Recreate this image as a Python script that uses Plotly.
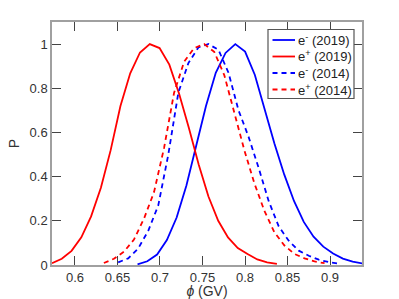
import plotly.graph_objects as go

# e+ (2019)
x_ep19 = [0.573, 0.5845, 0.596, 0.6075, 0.619, 0.6305, 0.642, 0.6535, 0.665, 0.6765, 0.688, 0.6995,
          0.711, 0.7225, 0.734, 0.7455, 0.757, 0.7685, 0.78, 0.7915, 0.803, 0.8145, 0.826, 0.8375]
p_ep19 = [0.008, 0.028, 0.064, 0.125, 0.22, 0.35, 0.52, 0.72, 0.868, 0.962, 1.0, 0.982,
          0.907, 0.775, 0.62, 0.455, 0.31, 0.2, 0.125, 0.077, 0.05, 0.025, 0.012, 0.005]

# e- (2019)
x_em19 = [0.6736, 0.6851, 0.6966, 0.7081, 0.7196, 0.7311, 0.7426, 0.7541, 0.7656, 0.7771, 0.7886, 0.8001,
          0.8116, 0.8231, 0.8346, 0.8461, 0.8576, 0.8691, 0.8806, 0.8921, 0.9036, 0.9151, 0.9266, 0.9381]
p_em19 = [0.003, 0.017, 0.047, 0.113, 0.215, 0.36, 0.54, 0.72, 0.87, 0.96, 1.0, 0.966,
          0.86, 0.70, 0.55, 0.41, 0.29, 0.195, 0.128, 0.083, 0.052, 0.029, 0.015, 0.007]

# e+ (2014)
x_ep14 = [0.634, 0.6458, 0.6576, 0.6694, 0.6812, 0.693, 0.7048, 0.7166, 0.7284, 0.7402, 0.752, 0.7638,
          0.7756, 0.7874, 0.7992, 0.811, 0.8228, 0.8346, 0.8464, 0.8582, 0.87, 0.8818, 0.8936]
p_ep14 = [0.009, 0.028, 0.06, 0.115, 0.21, 0.33, 0.53, 0.78, 0.92, 0.982, 1.0, 0.965,
          0.86, 0.69, 0.52, 0.37, 0.245, 0.148, 0.088, 0.05, 0.03, 0.016, 0.008]

# e- (2014)
x_em14 = [0.6508, 0.6626, 0.6744, 0.6862, 0.698, 0.7098, 0.7216, 0.7334, 0.7452, 0.757, 0.7688, 0.7806,
          0.7924, 0.8042, 0.816, 0.8278, 0.8396, 0.8514, 0.8632, 0.875, 0.8868, 0.8986, 0.9104]
p_em14 = [0.012, 0.03, 0.075, 0.155, 0.27, 0.5, 0.78, 0.914, 0.985, 1.0, 0.974, 0.87,
          0.70, 0.58, 0.44, 0.29, 0.175, 0.11, 0.065, 0.042, 0.024, 0.013, 0.006]

series_names = ["e<sup>-</sup> (2019)", "e<sup>+</sup> (2019)", "e<sup>-</sup> (2014)", "e<sup>+</sup> (2014)"]

x_ticks = [0.6, 0.65, 0.7, 0.75, 0.8, 0.85, 0.9]
y_ticks = [0, 0.2, 0.4, 0.6, 0.8, 1]

BLUE = "#0000ff"
RED = "#ff0000"
DASH = "5px,4px"
FONT = "Liberation Sans, Arial, sans-serif"

series = [
    (x_em19, p_em19, BLUE, "solid"),
    (x_ep19, p_ep19, RED, "solid"),
    (x_em14, p_em14, BLUE, DASH),
    (x_ep14, p_ep14, RED, DASH),
]

fig = go.Figure()
for (xs, ys, col, dash), nm in zip(series, series_names):
    fig.add_trace(go.Scatter(x=xs, y=ys, mode="lines", name=nm, showlegend=False,
                             line=dict(color=col, width=1.8, dash=dash)))

axis_common = dict(
    showgrid=False, zeroline=False, showline=True, linecolor="#a0a0a0", linewidth=1.5,
    mirror="ticks", ticks="inside", ticklen=9, tickwidth=1, tickcolor="#444444",
    automargin=False,
    tickfont=dict(family=FONT, size=13, color="#333333"),
)

fig.update_xaxes(range=[0.573, 0.9376], tickvals=x_ticks,
                 ticktext=[f"{v:g}" for v in x_ticks],
                 title=dict(text="<i>ϕ</i> (GV)", standoff=3,
                            font=dict(family=FONT, size=14, color="#333333")),
                 **axis_common)
fig.update_yaxes(range=[0, 1.1], tickvals=y_ticks,
                 ticktext=[f"{v:g}" for v in y_ticks],
                 title=dict(text="P", standoff=7,
                            font=dict(family=FONT, size=14, color="#333333")),
                 **axis_common)

# Legend box drawn in paper coordinates (plot area: 52..362 px wide, 22..265 px tall)
L, T, W, H = 52.0, 22.0, 310.0, 243.0
def px(xp):
    return (xp - L) / W
def py(yp):
    return 1 - (yp - T) / H

shapes = [dict(type="rect", xref="paper", yref="paper",
               x0=px(268), x1=px(354), y0=py(29.5), y1=py(98.5),
               line=dict(color="#555555", width=1.2), fillcolor="white", layer="above")]
annotations = []
rows = [40.0, 56.5, 73.0, 89.5]
for (xs, ys, col, dash), nm, ry in zip(series, series_names, rows):
    shapes.append(dict(type="line", xref="paper", yref="paper",
                       x0=px(272.5), x1=px(295), y0=py(ry), y1=py(ry),
                       line=dict(color=col, width=1.8, dash=dash), layer="above"))
    annotations.append(dict(xref="paper", yref="paper", x=px(295.5), y=py(ry),
                            text=nm, showarrow=False, xanchor="left", yanchor="middle",
                            font=dict(family=FONT, size=13, color="#222222")))

fig.update_layout(
    width=399, height=299,
    margin=dict(l=52, r=37, t=22, b=34),
    plot_bgcolor="white", paper_bgcolor="white",
    showlegend=False,
    shapes=shapes, annotations=annotations,
)

fig.write_html("out.html", config={"displayModeBar": False},
               post_script="document.body.style.margin='0px';document.body.style.overflow='hidden';")
